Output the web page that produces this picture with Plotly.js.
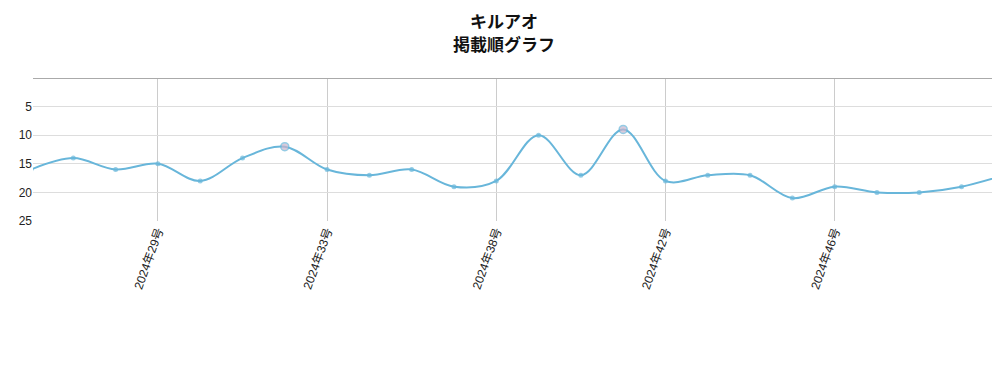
<!DOCTYPE html>
<html>
<head>
<meta charset="utf-8">
<script src="https://cdn.plot.ly/plotly-3.0.1.min.js"></script>
<style>html,body{margin:0;padding:0;background:#fff;}#chart{width:1008px;height:384px;}</style>
</head>
<body>
<div id="chart"></div>
<script>
const issues = ["2024年26号","2024年27号","2024年28号","2024年29号","2024年30号","2024年31号","2024年32号","2024年33号","2024年34号","2024年35号","2024年36・37号","2024年38号","2024年39号","2024年40号","2024年41号","2024年42号","2024年43号","2024年44号","2024年45号","2024年46号","2024年47号","2024年48号","2024年49号","2024年50号"];
const ranks = [16,14,16,15,18,14,12,16,17,16,19,18,10,17,9,18,17,17,21,19,20,20,19,17];
const colorPages = ["2024年32号","2024年41号"];
const tickIssues = ["2024年29号","2024年33号","2024年38号","2024年42号","2024年46号"];
const yTicks = [5,10,15,20,25];

const isColor = issues.map(c => colorPages.includes(c));
const trace = {
  x: issues, y: ranks, type: 'scatter', mode: 'lines+markers',
  line: {shape: 'spline', smoothing: 1, color: '#68b6da', width: 2},
  marker: {
    size: isColor.map(f => f ? 8 : 5),
    color: isColor.map(f => f ? '#c8b4cc' : '#68b6da'),
    line: {color: '#68b6da', width: isColor.map(f => f ? 1.5 : 0)}
  },
  cliponaxis: true,
  hoverinfo: 'x+y'
};
const layout = {
  width: 1008, height: 384,
  margin: {l: 33, r: 16, t: 78, b: 163},
  paper_bgcolor: '#fff', plot_bgcolor: '#fff',
  showlegend: false,
  title: {text: '<b>キルアオ<br>掲載順グラフ</b>', x: 0.5, xanchor: 'center',
    yref: 'container', y: 0.926, yanchor: 'middle',
    font: {family: 'Noto Sans CJK JP, Noto Sans, sans-serif', size: 17, color: '#111'}},
  xaxis: {
    type: 'category', range: [0.047, 22.72],
    tickmode: 'array', tickvals: tickIssues, ticktext: tickIssues,
    tickangle: -70, showgrid: true, gridcolor: '#cccccc', gridwidth: 1,
    zeroline: false, showline: false, ticks: '',
    tickfont: {family: 'Liberation Sans, Noto Sans CJK JP, sans-serif', size: 12, color: '#222'}
  },
  yaxis: {
    range: [25, 0], autorange: false,
    tickmode: 'array', tickvals: yTicks, ticktext: yTicks.map(String),
    showgrid: true, gridcolor: '#dddddd', gridwidth: 1,
    zeroline: true, zerolinecolor: '#aaaaaa', zerolinewidth: 1,
    showline: false, ticks: '',
    tickfont: {family: 'Liberation Sans, Arial, sans-serif', size: 12, color: '#222'}
  }
};
Plotly.newPlot('chart', [trace], layout, {displayModeBar: false, responsive: false});
</script>
</body>
</html>
